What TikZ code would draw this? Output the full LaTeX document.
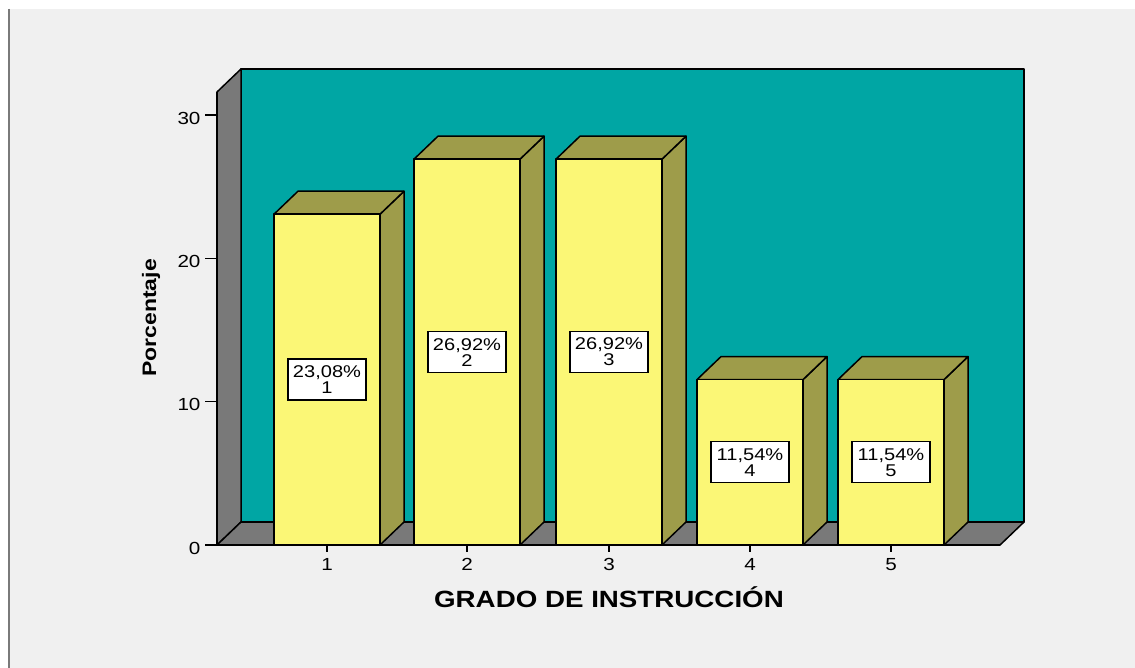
\documentclass[tikz,border=0pt]{standalone}
\usepackage{fontspec}
\setmainfont{Liberation Sans}[FakeStretch=1.18]
\usepackage{tikz}
\usetikzlibrary{calc}
\definecolor{bg}{HTML}{F0F0F0}
\definecolor{frame}{HTML}{7A7A7A}
\definecolor{wall}{HTML}{00A6A4}
\definecolor{walls}{HTML}{797979}
\definecolor{barfront}{HTML}{FBF776}
\definecolor{barside}{HTML}{9E9C4A}
\tikzset{
  edge/.style={draw=black, line width=1.5pt, line join=round},
  axis/.style={draw=black, line width=1.3pt},
  lbl/.style={draw=black, fill=white, line width=1.2pt, inner sep=0pt,
    minimum width=78pt, minimum height=41pt, align=center,
    font=\fontsize{17}{16}\selectfont},
  ticklab/.style={font=\fontsize{17.5}{17.5}\selectfont, anchor=base},
  title/.style={font=\bfseries\fontsize{23.5}{23.5}\selectfont, anchor=base},
}

\begin{document}
\begin{tikzpicture}[x=1pt,y=-1pt]
  \useasboundingbox (0,0) rectangle (1135,668);
  \fill[white] (0,0) rectangle (1135,668);
  \fill[bg] (10,9) rectangle (1135,668);
  \draw[frame, line width=2.5pt] (9,9) -- (9,668);

  % walls and floor
  \filldraw[wall, edge] (241,69) rectangle (1024,522);
  \filldraw[walls, edge] (217,92) -- (241,69) -- (241,522) -- (217,545) -- cycle;
  \filldraw[walls, edge] (217,545) -- (241,522) -- (1024,522) -- (1000,545) -- cycle;

  % axes
  \draw[axis] (217,92) -- (217,545) -- (1000,545);
  \foreach \v in {0,10,20,30} {
    \draw[axis] (205,545-14.333*\v) -- (217,545-14.333*\v);
    \node[ticklab, anchor=base east] at (204,554-14.333*\v) {\v};
  }

  % bars
  \foreach \i/\xl/\v/\pct in {1/274/23.08/{23,08\%}, 2/414/26.92/{26,92\%},
      3/556/26.92/{26,92\%}, 4/697/11.54/{11,54\%}, 5/838/11.54/{11,54\%}} {
    \pgfmathsetmacro\t{545-14.333*\v}
    \pgfmathsetmacro\xr{\xl+106}
    \filldraw[barside, edge] (\xr,545) -- (\xr+24,522) -- (\xr+24,\t-23) -- (\xr,\t) -- cycle;
    \filldraw[barside, edge] (\xl,\t) -- (\xl+24,\t-23) -- (\xr+24,\t-23) -- (\xr,\t) -- cycle;
    \filldraw[barfront, edge] (\xl,545) rectangle (\xr,\t);
    \node[lbl] (lab\i) at (\xl+53,{(545+\t)/2}) {\pct\\\i};
    \draw[axis] (\xl+53,545) -- (\xl+53,552);
    \node[ticklab] (tick\i) at (\xl+53,570) {\i};
  }

  \node[title, font=\bfseries\fontsize{19.5}{19.5}\selectfont, rotate=90, anchor=center] (ylab) at (151,318) {Porcentaje};
  \node[title] (xlab) at (609,607) {GRADO DE INSTRUCCIÓN};
\end{tikzpicture}
\end{document}
